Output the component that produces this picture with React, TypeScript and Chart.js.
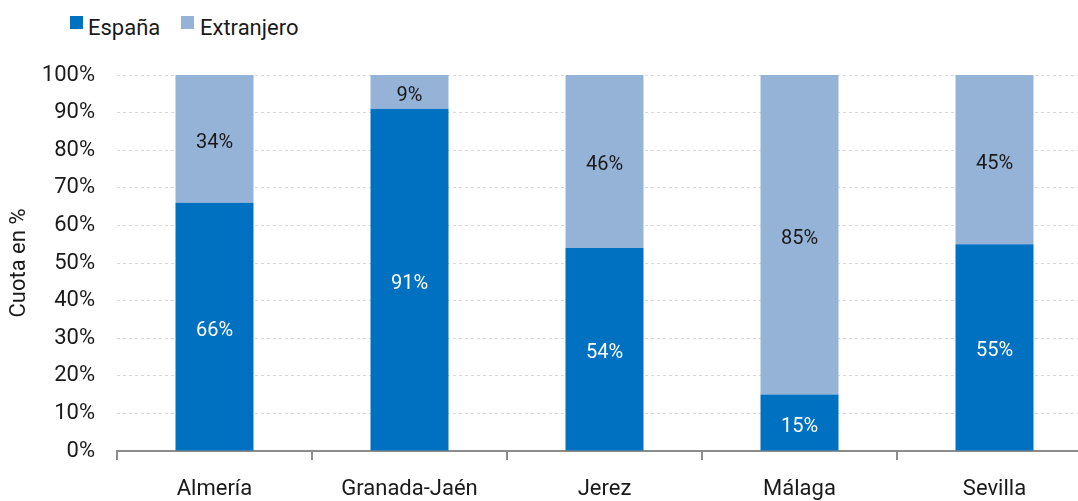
import React, { useEffect, useRef } from 'react';
import { Chart, registerables } from 'chart.js';

Chart.register(...registerables);

const categories = ['Almería', 'Granada-Jaén', 'Jerez', 'Málaga', 'Sevilla'];
const espana = [66, 91, 54, 15, 55];
const extranjero = [34, 9, 46, 85, 45];
const seriesNames = ['España', 'Extranjero'];
const seriesColors = ['#0070C0', '#95B3D7'];
const labelColors = ['#ffffff', '#1a1a1a'];
const yAxisTitle = 'Cuota en %';

const FONT = 'Roboto, sans-serif';
const TEXT = '#1a1a1a';

const dataLabels = {
  id: 'dataLabels',
  afterDatasetsDraw(chart: any) {
    const ctx = chart.ctx;
    ctx.save();
    ctx.font = `20px ${FONT}`;
    ctx.textAlign = 'center';
    ctx.textBaseline = 'middle';
    chart.data.datasets.forEach((ds: any, di: number) => {
      const meta = chart.getDatasetMeta(di);
      meta.data.forEach((el: any, i: number) => {
        const v = ds.data[i];
        const y = (el.y + el.base) / 2 + 4;
        ctx.fillStyle = labelColors[di];
        ctx.fillText(`${v}%`, el.x, y);
      });
    });
    ctx.restore();
  },
};

export default function App() {
  const ref = useRef<HTMLCanvasElement>(null);
  useEffect(() => {
    if (!ref.current) return;
    const chart = new Chart(ref.current, {
      type: 'bar',
      data: {
        labels: categories,
        datasets: [
          { label: seriesNames[0], data: espana, backgroundColor: seriesColors[0], barPercentage: 0.4, categoryPercentage: 1 },
          { label: seriesNames[1], data: extranjero, backgroundColor: seriesColors[1], barPercentage: 0.4, categoryPercentage: 1 },
        ],
      },
      options: {
        responsive: false,
        animation: false,
        layout: { padding: { top: 75, right: 8, left: 0, bottom: 0 } },
        plugins: { legend: { display: false }, tooltip: { enabled: false } },
        scales: {
          x: {
            stacked: true,
            offset: true,
            afterFit: (s: any) => { s.height = 50; },
            grid: { display: true, drawOnChartArea: false, drawTicks: true, tickLength: 9, color: '#8c8c8c', lineWidth: 2, offset: true },
            border: { display: true, color: '#8c8c8c', width: 2 },
            ticks: { color: TEXT, font: { family: FONT, size: 22 }, padding: 16, maxRotation: 0 },
          },
          y: {
            stacked: true,
            min: 0,
            max: 100,
            afterFit: (s: any) => { s.width = 117; },
            grid: { color: '#d9d9d9', lineWidth: 1, drawTicks: false },
            border: { display: false, dash: [3, 3] },
            ticks: { stepSize: 10, color: TEXT, font: { family: FONT, size: 22 }, padding: 22, callback: (v: any) => `${v}%` },
            title: { display: true, text: yAxisTitle, color: TEXT, font: { family: FONT, size: 22 }, padding: { top: 6, bottom: 0 } },
          },
        },
      },
      plugins: [dataLabels],
    });
    return () => chart.destroy();
  }, []);

  const legendText: React.CSSProperties = {
    position: 'absolute', top: 16, fontFamily: FONT, fontSize: 22, lineHeight: '24px', color: TEXT, whiteSpace: 'nowrap',
  };
  return (
    <div style={{ position: 'absolute', left: 0, top: 0, width: 1078, height: 501, overflow: 'hidden', background: '#fff' }}>
      <div style={{ position: 'absolute', left: 70, top: 16, width: 13, height: 13, background: seriesColors[0] }} />
      <div style={{ ...legendText, left: 88 }}>{seriesNames[0]}</div>
      <div style={{ position: 'absolute', left: 181, top: 16, width: 13, height: 13, background: seriesColors[1] }} />
      <div style={{ ...legendText, left: 200 }}>{seriesNames[1]}</div>
      <canvas ref={ref} width={1100} height={501} style={{ position: 'absolute', left: 0, top: 0, width: 1100, height: 501 }} />
    </div>
  );
}
